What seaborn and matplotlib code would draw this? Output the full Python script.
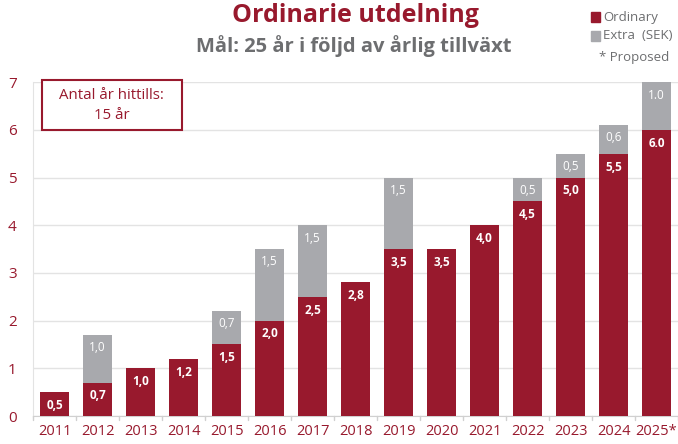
import numpy as np
import pandas as pd
import matplotlib.pyplot as plt
import seaborn as sns
from matplotlib.patches import Rectangle

# data
years = ["2011", "2012", "2013", "2014", "2015", "2016", "2017", "2018",
         "2019", "2020", "2021", "2022", "2023", "2024", "2025*"]
ordinary = [0.5, 0.7, 1.0, 1.2, 1.5, 2.0, 2.5, 2.8, 3.5, 3.5, 4.0, 4.5, 5.0, 5.5, 6.0]
extra = [0, 1.0, 0, 0, 0.7, 1.5, 1.5, 0, 1.5, 0, 0, 0.5, 0.5, 0.6, 1.0]
ord_labels = ["0,5", "0,7", "1,0", "1,2", "1,5", "2,0", "2,5", "2,8", "3,5", "3,5",
              "4,0", "4,5", "5,0", "5,5", "6.0"]
extra_labels = ["", "1,0", "", "", "0,7", "1,5", "1,5", "", "1,5", "", "",
                "0,5", "0,5", "0,6", "1.0"]

RED = "#98192d"
GREY = "#a8a9ad"

df = pd.DataFrame({"year": years, "ordinary": ordinary, "extra": extra})
df["total"] = df["ordinary"] + df["extra"]

sns.set_style("white")
plt.rcParams["font.family"] = ["Open Sans", "DejaVu Sans"]

fig = plt.figure(figsize=(6.78, 4.44), dpi=100)
ax = fig.add_axes([0.049, 0.063, 0.951, 0.752])

sns.barplot(data=df, x="year", y="total", color=GREY, width=0.67,
            saturation=1, linewidth=0, ax=ax, zorder=2)
sns.barplot(data=df, x="year", y="ordinary", color=RED, width=0.67,
            saturation=1, linewidth=0, ax=ax, zorder=3)

for i, row in df.iterrows():
    ax.text(i, row["ordinary"] - 0.28, ord_labels[i], ha="center", va="center",
            color="white", fontsize=8.5, fontweight="bold", zorder=4)
    if extra_labels[i]:
        ax.text(i, row["total"] - 0.27, extra_labels[i], ha="center", va="center",
                color="white", fontsize=8.5, zorder=4)

ax.set_ylim(0, 7)
ax.set_xlim(-0.5, 14.5)
ax.set_yticks(range(0, 8))
ax.yaxis.grid(True, color="#e3e3e3", linewidth=1, zorder=0)
ax.set_axisbelow(True)
ax.set_xlabel("")
ax.set_ylabel("")
for s in ["top", "right"]:
    ax.spines[s].set_visible(False)
ax.spines["left"].set_color("#e3e3e3")
ax.spines["bottom"].set_color("#d0d0d0")
ax.tick_params(axis="y", colors=RED, labelsize=11, length=0, pad=12)
ax.tick_params(axis="x", colors=RED, labelsize=10.5, length=0, pad=6)
for xb in np.arange(-0.5, 15, 1):
    ax.plot([xb, xb], [0, -0.08], color="#d0d0d0", lw=1, clip_on=False)

# titles
fig.text(0.524, 0.965, "Ordinarie utdelning", ha="center", va="center",
         color=RED, fontsize=18, fontweight="bold")
fig.text(0.522, 0.897, "Mål: 25 år i följd av årlig tillväxt", ha="center",
         va="center", color="#6d6e70", fontsize=14.5, fontweight="bold")

# legend
fig.patches.append(Rectangle((0.872, 0.950), 0.013, 0.022, color=RED,
                             transform=fig.transFigure, figure=fig))
fig.text(0.890, 0.961, "Ordinary", va="center", color="#6d6e70", fontsize=9.5)
fig.patches.append(Rectangle((0.872, 0.908), 0.013, 0.022, color=GREY,
                             transform=fig.transFigure, figure=fig))
fig.text(0.890, 0.919, "Extra  (SEK)", va="center", color="#6d6e70", fontsize=9.5)
fig.text(0.883, 0.870, "* Proposed", va="center", color="#6d6e70", fontsize=9.5)

# box
fig.patches.append(Rectangle((0.062, 0.707), 0.206, 0.113, fc="white", ec=RED,
                             lw=1.5, transform=fig.transFigure, figure=fig,
                             zorder=5))
fig.text(0.165, 0.763, "Antal år hittills:\n15 år", ha="center", va="center",
         color=RED, fontsize=10.8, linespacing=1.45, zorder=6)

fig.savefig("out.png", dpi=100)
